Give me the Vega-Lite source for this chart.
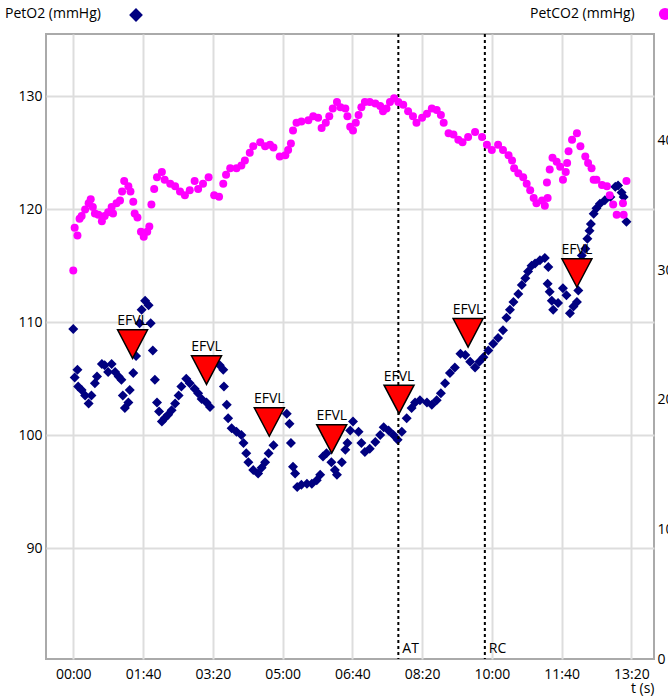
{
  "$schema": "https://vega.github.io/schema/vega-lite/v6.json",
  "width": 608,
  "height": 625,
  "autosize": "none",
  "padding": {"left": 46, "top": 34, "right": 14, "bottom": 38},
  "config": {
    "font": "Open Sans",
    "view": {"stroke": "#aaaaaa", "strokeWidth": 2},
    "axis": {
      "labelFont": "Open Sans",
      "labelFontSize": 14,
      "labelColor": "#000000",
      "ticks": false,
      "domain": false,
      "gridColor": "#dddddd",
      "gridWidth": 2,
      "gridOpacity": 1,
      "titleFont": "Open Sans",
      "titleFontSize": 14,
      "titleFontWeight": "normal",
      "titleColor": "#000000"
    },
    "legend": {
      "titleFont": "Open Sans",
      "titleFontSize": 14,
      "titleFontWeight": "normal",
      "titleColor": "#000000"
    }
  },
  "datasets": {
    "o2": [
      {"t": 0, "petO2": 109.4}, {"t": 2, "petO2": 105.1}, {"t": 6, "petO2": 105.8}, {"t": 7, "petO2": 104.3},
      {"t": 12, "petO2": 104.0}, {"t": 17, "petO2": 103.5}, {"t": 22, "petO2": 102.8}, {"t": 26, "petO2": 103.5},
      {"t": 31, "petO2": 104.6}, {"t": 34, "petO2": 105.2}, {"t": 41, "petO2": 106.3}, {"t": 45, "petO2": 106.2},
      {"t": 50, "petO2": 105.6}, {"t": 55, "petO2": 106.3}, {"t": 60, "petO2": 105.6}, {"t": 65, "petO2": 105.2},
      {"t": 69, "petO2": 104.9}, {"t": 71, "petO2": 103.5}, {"t": 74, "petO2": 102.4}, {"t": 79, "petO2": 102.9},
      {"t": 81, "petO2": 104.0}, {"t": 86, "petO2": 105.5}, {"t": 90, "petO2": 107.0}, {"t": 95, "petO2": 109.9},
      {"t": 98, "petO2": 111.1}, {"t": 103, "petO2": 111.9}, {"t": 108, "petO2": 111.5}, {"t": 111, "petO2": 109.9},
      {"t": 114, "petO2": 107.5}, {"t": 117, "petO2": 104.9}, {"t": 120, "petO2": 102.9}, {"t": 123, "petO2": 102.1},
      {"t": 127, "petO2": 101.2}, {"t": 131, "petO2": 101.5}, {"t": 136, "petO2": 101.8}, {"t": 141, "petO2": 102.2},
      {"t": 146, "petO2": 102.8}, {"t": 151, "petO2": 103.5}, {"t": 155, "petO2": 104.3}, {"t": 162, "petO2": 105.0},
      {"t": 167, "petO2": 104.6}, {"t": 174, "petO2": 104.1}, {"t": 179, "petO2": 103.7}, {"t": 184, "petO2": 103.2},
      {"t": 191, "petO2": 102.9}, {"t": 196, "petO2": 102.5}, {"t": 210, "petO2": 106.2}, {"t": 215, "petO2": 105.8},
      {"t": 216, "petO2": 104.3}, {"t": 220, "petO2": 102.7}, {"t": 222, "petO2": 101.5}, {"t": 227, "petO2": 100.6},
      {"t": 234, "petO2": 100.3}, {"t": 241, "petO2": 100.0}, {"t": 244, "petO2": 99.3}, {"t": 248, "petO2": 98.4},
      {"t": 251, "petO2": 97.6}, {"t": 258, "petO2": 96.9}, {"t": 265, "petO2": 96.6}, {"t": 270, "petO2": 97.1},
      {"t": 275, "petO2": 97.6}, {"t": 280, "petO2": 98.4}, {"t": 287, "petO2": 99.1}, {"t": 306, "petO2": 101.9},
      {"t": 310, "petO2": 101.0}, {"t": 312, "petO2": 99.3}, {"t": 315, "petO2": 97.2}, {"t": 318, "petO2": 96.6},
      {"t": 321, "petO2": 95.4}, {"t": 327, "petO2": 95.6}, {"t": 335, "petO2": 95.7}, {"t": 342, "petO2": 95.7},
      {"t": 349, "petO2": 96.0}, {"t": 354, "petO2": 96.5}, {"t": 358, "petO2": 98.1}, {"t": 363, "petO2": 98.4},
      {"t": 370, "petO2": 97.6}, {"t": 375, "petO2": 96.9}, {"t": 378, "petO2": 96.5}, {"t": 385, "petO2": 97.6},
      {"t": 390, "petO2": 98.7}, {"t": 393, "petO2": 99.3}, {"t": 397, "petO2": 100.4}, {"t": 401, "petO2": 101.2},
      {"t": 409, "petO2": 100.3}, {"t": 413, "petO2": 99.3}, {"t": 418, "petO2": 98.5}, {"t": 425, "petO2": 98.8},
      {"t": 433, "petO2": 99.4}, {"t": 440, "petO2": 100.0}, {"t": 445, "petO2": 100.7}, {"t": 452, "petO2": 100.4},
      {"t": 459, "petO2": 100.0}, {"t": 465, "petO2": 99.6}, {"t": 471, "petO2": 100.3}, {"t": 478, "petO2": 101.5},
      {"t": 485, "petO2": 102.4}, {"t": 490, "petO2": 102.9}, {"t": 497, "petO2": 103.1}, {"t": 507, "petO2": 102.9},
      {"t": 514, "petO2": 102.7}, {"t": 521, "petO2": 103.1}, {"t": 527, "petO2": 103.7}, {"t": 533, "petO2": 104.6},
      {"t": 540, "petO2": 105.5}, {"t": 547, "petO2": 106.0}, {"t": 555, "petO2": 107.2}, {"t": 562, "petO2": 107.1},
      {"t": 569, "petO2": 106.5}, {"t": 576, "petO2": 106.0}, {"t": 582, "petO2": 106.5}, {"t": 588, "petO2": 106.9},
      {"t": 595, "petO2": 107.5}, {"t": 602, "petO2": 108.1}, {"t": 609, "petO2": 108.6}, {"t": 616, "petO2": 109.3},
      {"t": 621, "petO2": 110.4}, {"t": 626, "petO2": 111.1}, {"t": 631, "petO2": 111.8}, {"t": 638, "petO2": 112.5},
      {"t": 643, "petO2": 113.3}, {"t": 648, "petO2": 113.9}, {"t": 652, "petO2": 114.5}, {"t": 657, "petO2": 115.0},
      {"t": 662, "petO2": 115.2}, {"t": 669, "petO2": 115.5}, {"t": 676, "petO2": 115.7}, {"t": 681, "petO2": 114.9},
      {"t": 680, "petO2": 113.4}, {"t": 683, "petO2": 112.7}, {"t": 686, "petO2": 111.9}, {"t": 688, "petO2": 111.1},
      {"t": 695, "petO2": 111.7}, {"t": 702, "petO2": 113.0}, {"t": 707, "petO2": 112.4}, {"t": 712, "petO2": 110.8},
      {"t": 717, "petO2": 111.4}, {"t": 722, "petO2": 111.8}, {"t": 724, "petO2": 112.8}, {"t": 729, "petO2": 115.9},
      {"t": 734, "petO2": 116.5}, {"t": 737, "petO2": 117.4}, {"t": 740, "petO2": 118.1}, {"t": 742, "petO2": 118.7},
      {"t": 746, "petO2": 119.6}, {"t": 750, "petO2": 120.1}, {"t": 755, "petO2": 120.5}, {"t": 762, "petO2": 120.8},
      {"t": 770, "petO2": 121.1}, {"t": 777, "petO2": 122.0}, {"t": 781, "petO2": 122.1}, {"t": 786, "petO2": 121.5},
      {"t": 789, "petO2": 121.1}, {"t": 793, "petO2": 118.9}
    ],
    "co2": [
      {"t": 0, "petCO2": 30.0}, {"t": 2, "petCO2": 33.3}, {"t": 6, "petCO2": 32.7}, {"t": 9, "petCO2": 34.0},
      {"t": 12, "petCO2": 34.2}, {"t": 17, "petCO2": 34.7}, {"t": 22, "petCO2": 35.2}, {"t": 25, "petCO2": 35.5},
      {"t": 28, "petCO2": 34.9}, {"t": 31, "petCO2": 34.4}, {"t": 36, "petCO2": 34.3}, {"t": 41, "petCO2": 33.8},
      {"t": 45, "petCO2": 34.2}, {"t": 50, "petCO2": 34.5}, {"t": 55, "petCO2": 34.9}, {"t": 57, "petCO2": 34.4},
      {"t": 62, "petCO2": 35.2}, {"t": 67, "petCO2": 35.4}, {"t": 70, "petCO2": 36.1}, {"t": 73, "petCO2": 36.9},
      {"t": 79, "petCO2": 36.5}, {"t": 82, "petCO2": 36.1}, {"t": 86, "petCO2": 35.3}, {"t": 88, "petCO2": 34.4},
      {"t": 92, "petCO2": 34.1}, {"t": 97, "petCO2": 33.0}, {"t": 101, "petCO2": 32.6}, {"t": 106, "petCO2": 33.0},
      {"t": 109, "petCO2": 33.4}, {"t": 112, "petCO2": 35.1}, {"t": 116, "petCO2": 36.3}, {"t": 120, "petCO2": 37.2},
      {"t": 127, "petCO2": 37.6}, {"t": 131, "petCO2": 37.0}, {"t": 139, "petCO2": 36.7}, {"t": 146, "petCO2": 36.5},
      {"t": 153, "petCO2": 36.1}, {"t": 160, "petCO2": 35.8}, {"t": 167, "petCO2": 36.2}, {"t": 174, "petCO2": 36.9},
      {"t": 179, "petCO2": 36.3}, {"t": 186, "petCO2": 36.7}, {"t": 194, "petCO2": 37.2}, {"t": 202, "petCO2": 35.8},
      {"t": 209, "petCO2": 35.7}, {"t": 215, "petCO2": 36.7}, {"t": 219, "petCO2": 37.4}, {"t": 225, "petCO2": 37.9},
      {"t": 234, "petCO2": 37.9}, {"t": 241, "petCO2": 38.1}, {"t": 246, "petCO2": 38.5}, {"t": 253, "petCO2": 39.1},
      {"t": 258, "petCO2": 39.6}, {"t": 268, "petCO2": 39.9}, {"t": 275, "petCO2": 39.6}, {"t": 282, "petCO2": 39.7},
      {"t": 287, "petCO2": 39.5}, {"t": 296, "petCO2": 38.8}, {"t": 304, "petCO2": 38.9}, {"t": 308, "petCO2": 39.3},
      {"t": 312, "petCO2": 39.8}, {"t": 315, "petCO2": 40.8}, {"t": 320, "petCO2": 41.4}, {"t": 327, "petCO2": 41.5},
      {"t": 337, "petCO2": 41.6}, {"t": 344, "petCO2": 41.9}, {"t": 351, "petCO2": 41.8}, {"t": 356, "petCO2": 41.0},
      {"t": 362, "petCO2": 41.4}, {"t": 367, "petCO2": 41.9}, {"t": 372, "petCO2": 42.5}, {"t": 378, "petCO2": 43.0},
      {"t": 383, "petCO2": 42.6}, {"t": 390, "petCO2": 42.5}, {"t": 393, "petCO2": 41.9}, {"t": 397, "petCO2": 41.1},
      {"t": 401, "petCO2": 40.8}, {"t": 405, "petCO2": 41.4}, {"t": 409, "petCO2": 42.0}, {"t": 413, "petCO2": 42.6},
      {"t": 418, "petCO2": 43.0}, {"t": 425, "petCO2": 43.0}, {"t": 433, "petCO2": 42.9}, {"t": 440, "petCO2": 42.7},
      {"t": 444, "petCO2": 42.3}, {"t": 449, "petCO2": 42.5}, {"t": 454, "petCO2": 43.0}, {"t": 460, "petCO2": 43.3},
      {"t": 466, "petCO2": 43.0}, {"t": 473, "petCO2": 42.8}, {"t": 480, "petCO2": 42.3}, {"t": 487, "petCO2": 41.9},
      {"t": 492, "petCO2": 41.4}, {"t": 500, "petCO2": 41.8}, {"t": 507, "petCO2": 42.1}, {"t": 514, "petCO2": 42.5},
      {"t": 521, "petCO2": 42.4}, {"t": 527, "petCO2": 42.0}, {"t": 531, "petCO2": 41.4}, {"t": 538, "petCO2": 40.6},
      {"t": 545, "petCO2": 40.5}, {"t": 552, "petCO2": 40.1}, {"t": 558, "petCO2": 39.9}, {"t": 566, "petCO2": 40.3},
      {"t": 576, "petCO2": 40.7}, {"t": 586, "petCO2": 40.3}, {"t": 593, "petCO2": 39.7}, {"t": 600, "petCO2": 39.3},
      {"t": 609, "petCO2": 39.7}, {"t": 616, "petCO2": 39.3}, {"t": 624, "petCO2": 38.9}, {"t": 629, "petCO2": 38.5},
      {"t": 632, "petCO2": 37.9}, {"t": 638, "petCO2": 37.5}, {"t": 645, "petCO2": 37.2}, {"t": 650, "petCO2": 36.7},
      {"t": 655, "petCO2": 36.2}, {"t": 660, "petCO2": 35.6}, {"t": 664, "petCO2": 35.2}, {"t": 672, "petCO2": 35.4},
      {"t": 676, "petCO2": 35.0}, {"t": 680, "petCO2": 35.6}, {"t": 679, "petCO2": 36.8}, {"t": 683, "petCO2": 37.8},
      {"t": 687, "petCO2": 38.7}, {"t": 693, "petCO2": 38.4}, {"t": 698, "petCO2": 38.0}, {"t": 702, "petCO2": 37.0},
      {"t": 706, "petCO2": 37.6}, {"t": 708, "petCO2": 38.3}, {"t": 710, "petCO2": 39.2}, {"t": 715, "petCO2": 40.1},
      {"t": 722, "petCO2": 40.6}, {"t": 727, "petCO2": 39.6}, {"t": 734, "petCO2": 38.8}, {"t": 738, "petCO2": 38.3},
      {"t": 743, "petCO2": 37.9}, {"t": 746, "petCO2": 37.0}, {"t": 750, "petCO2": 37.0}, {"t": 758, "petCO2": 36.6},
      {"t": 765, "petCO2": 36.5}, {"t": 769, "petCO2": 35.8}, {"t": 774, "petCO2": 35.1}, {"t": 779, "petCO2": 34.3},
      {"t": 789, "petCO2": 34.3}, {"t": 788, "petCO2": 35.2}, {"t": 793, "petCO2": 36.9}
    ],
    "efvl": [
      {"t": 85, "petO2": 106.8, "label": "EFVL"},
      {"t": 191, "petO2": 104.5, "label": "EFVL"},
      {"t": 281, "petO2": 99.9, "label": "EFVL"},
      {"t": 370.5, "petO2": 98.4, "label": "EFVL"},
      {"t": 467, "petO2": 101.9, "label": "EFVL"},
      {"t": 566, "petO2": 107.8, "label": "EFVL"},
      {"t": 722, "petO2": 113.1, "label": "EFVL"}
    ],
    "events": [
      {"t": 466, "label": "AT"},
      {"t": 590, "label": "RC"}
    ]
  },
  "layer": [
    {
      "layer": [
        {
          "data": {"name": "o2"},
          "mark": {"type": "point", "shape": "diamond", "filled": true, "size": 100, "opacity": 1},
          "encoding": {
            "x": {
              "field": "t", "type": "quantitative",
              "scale": {"domain": [-39.1, 832.5], "nice": false, "zero": false},
              "axis": {
                "values": [0, 100, 200, 300, 400, 500, 600, 700, 800],
                "labelExpr": "utcFormat(datum.value * 1000, '%M:%S')",
                "grid": true,
                "labelPadding": 8,
                "title": "t (s)",
                "titleAnchor": "end",
                "titlePadding": 0
              }
            },
            "y": {
              "field": "petO2", "type": "quantitative",
              "scale": {"domain": [80.17, 135.53], "nice": false, "zero": false},
              "axis": {
                "orient": "left",
                "values": [90, 100, 110, 120, 130],
                "grid": true,
                "labelPadding": 4,
                "title": null
              }
            },
            "color": {
              "datum": "PetO2 (mmHg)", "type": "nominal",
              "scale": {"range": ["#000080"]},
              "legend": {
                "title": "PetO2 (mmHg)",
                "titleOrient": "left",
                "orient": "none",
                "legendX": -41,
                "legendY": -27,
                "labelExpr": "''",
                "symbolType": "diamond",
                "symbolSize": 190,
                "symbolOpacity": 1,
                "titlePadding": 27
              }
            }
          }
        },
        {
          "data": {"name": "events"},
          "mark": {"type": "rule", "color": "#000000", "strokeWidth": 2, "strokeDash": [3, 3]},
          "encoding": {
            "x": {"field": "t", "type": "quantitative"}
          }
        },
        {
          "data": {"name": "events"},
          "mark": {"type": "text", "align": "left", "baseline": "alphabetic", "dx": 4, "fontSize": 14, "color": "#000000"},
          "encoding": {
            "x": {"field": "t", "type": "quantitative"},
            "y": {"datum": 80.7, "type": "quantitative"},
            "text": {"field": "label", "type": "nominal"}
          }
        },
        {
          "data": {"name": "efvl"},
          "mark": {"type": "point", "shape": "M-1,-1.9L1,-1.9L0,0Z", "size": 900, "filled": true, "fill": "#ff0000", "stroke": "#000000", "strokeWidth": 1.5, "opacity": 1},
          "encoding": {
            "x": {"field": "t", "type": "quantitative"},
            "y": {"field": "petO2", "type": "quantitative"}
          }
        },
        {
          "data": {"name": "efvl"},
          "mark": {"type": "text", "align": "center", "baseline": "alphabetic", "dy": -33, "fontSize": 14, "color": "#000000"},
          "encoding": {
            "x": {"field": "t", "type": "quantitative"},
            "y": {"field": "petO2", "type": "quantitative"},
            "text": {"field": "label", "type": "nominal"}
          }
        }
      ]
    },
    {
      "data": {"name": "co2"},
      "mark": {"type": "circle", "size": 64, "opacity": 1},
      "encoding": {
        "x": {"field": "t", "type": "quantitative"},
        "y": {
          "field": "petCO2", "type": "quantitative",
          "scale": {"domain": [0, 48.26], "nice": false, "zero": false},
          "axis": {
            "orient": "right",
            "values": [0, 10, 20, 30, 40],
            "grid": false,
            "labelPadding": 3,
            "title": null
          }
        },
        "color": {
          "datum": "PetCO2 (mmHg)", "type": "nominal",
          "scale": {"range": ["#ff00ff"]},
          "legend": {
            "title": "PetCO2 (mmHg)",
            "titleOrient": "left",
            "orient": "none",
            "legendX": 484,
            "legendY": -27,
            "labelExpr": "''",
            "symbolType": "circle",
            "symbolSize": 150,
            "symbolOpacity": 1,
            "titlePadding": 23
          }
        }
      }
    }
  ],
  "resolve": {"scale": {"y": "independent", "color": "independent"}, "axis": {"y": "independent"}}
}
